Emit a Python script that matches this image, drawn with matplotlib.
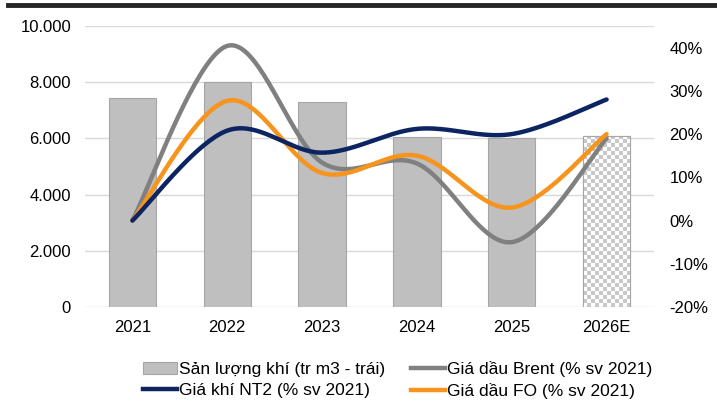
import matplotlib
matplotlib.use("Agg")
import matplotlib.pyplot as plt
import matplotlib.lines as mlines
import matplotlib.patches as mpatches
from matplotlib.ticker import FuncFormatter
import numpy as np

plt.rcParams["font.family"] = ["Liberation Sans", "DejaVu Sans"]

# Data
years = ["2021", "2022", "2023", "2024", "2025", "2026E"]
gas_output = [7450, 8000, 7300, 6050, 6000, 6100]        # tr m3, left axis
brent_pct = [0, 40.4, 13.4, 13.2, -5.0, 19.0]             # % vs 2021
nt2_pct = [0, 20.8, 15.7, 21.2, 20.0, 28.0]
fo_pct = [0, 27.7, 11.0, 15.0, 3.0, 20.0]

C_BAR = "#bfbfbf"
C_BAR_EDGE = "#a6a6a6"
C_BRENT = "#808080"
C_NT2 = "#0c2461"
C_FO = "#f7941d"
C_GRID = "#d9d9d9"


def smooth(xs, ys, n=40):
    # Excel-like smoothed line: Catmull-Rom through points as cubic Beziers
    xs = np.asarray(xs, float)
    ys = np.asarray(ys, float)
    pts = np.column_stack([xs, ys])
    P = np.vstack([pts[0], pts, pts[-1]])
    out = []
    t = np.linspace(0, 1, n)[:, None]
    for i in range(1, len(P) - 2):
        p0, p1, p2, p3 = P[i - 1], P[i], P[i + 1], P[i + 2]
        c1 = p1 + (p2 - p0) / 6
        c2 = p2 - (p3 - p1) / 6
        seg = ((1 - t) ** 3) * p1 + 3 * ((1 - t) ** 2) * t * c1 \
            + 3 * (1 - t) * t ** 2 * c2 + t ** 3 * p2
        out.append(seg if i == 1 else seg[1:])
    out = np.vstack(out)
    return out[:, 0], out[:, 1]


fig = plt.figure(figsize=(7.17, 4.04), dpi=100)
ax = fig.add_axes([85 / 717, 1 - 307 / 404, (654 - 85) / 717, (307 - 26) / 404])
ax2 = ax.twinx()

x = np.arange(len(years))
bars = ax.bar(x, gas_output, width=0.5, color=C_BAR, edgecolor=C_BAR_EDGE,
              linewidth=0.8, zorder=2)

# checkerboard fill for the estimate bar
last = bars[-1]
last.set_facecolor("white")
checker = (np.indices((43, 12)).sum(axis=0) % 2).astype(float)
img = ax.imshow(checker, cmap=matplotlib.colors.ListedColormap(["#ffffff", "#c8c8c8"]),
                extent=[last.get_x(), last.get_x() + last.get_width(), 0, last.get_height()],
                aspect="auto", interpolation="nearest", zorder=2.5, origin="lower")
img.set_clip_path(last)
edge = mpatches.Rectangle((last.get_x(), 0), last.get_width(), last.get_height(),
                          fill=False, edgecolor=C_BAR_EDGE, linewidth=0.8, zorder=2.6)
ax.add_patch(edge)

ax.set_xlim(-0.5, len(years) - 0.5)
ax.set_ylim(0, 10000)
ax.set_yticks(np.arange(0, 10001, 2000))
ax.yaxis.set_major_formatter(FuncFormatter(lambda v, p: f"{int(v):,}".replace(",", ".")))
ax.set_xticks(x)
ax.set_xticklabels(years)
ax.grid(axis="y", color=C_GRID, linewidth=1)
ax.set_axisbelow(True)

for series, color in [(brent_pct, C_BRENT), (fo_pct, C_FO), (nt2_pct, C_NT2)]:
    sx, sy = smooth(x, series)
    ax2.plot(sx, sy, color=color, linewidth=3.2, solid_capstyle="round", zorder=3)

ax2.set_ylim(-20, 45)
ax2.set_yticks(np.arange(-20, 41, 10))
ax2.yaxis.set_major_formatter(FuncFormatter(lambda v, p: f"{int(v)}%"))

for a in (ax, ax2):
    for s in a.spines.values():
        s.set_visible(False)
    a.tick_params(length=0)
ax.tick_params(axis="y", labelsize=12, pad=10)
ax.tick_params(axis="x", labelsize=12, pad=9)
ax2.tick_params(axis="y", labelsize=12, pad=11)

# dark rule across the top
fig.add_artist(mlines.Line2D([8 / 717, 1], [1 - 5 / 404, 1 - 5 / 404],
                             color="#262626", linewidth=3.5))

handles = [
    mpatches.Patch(facecolor=C_BAR, edgecolor=C_BAR_EDGE, linewidth=0.8),
    mlines.Line2D([], [], color=C_NT2, linewidth=3.2),
    mlines.Line2D([], [], color=C_BRENT, linewidth=3.2),
    mlines.Line2D([], [], color=C_FO, linewidth=3.2),
]
labels = [
    "Sản lượng khí (tr m3 - trái)",
    "Giá khí NT2 (% sv 2021)",
    "Giá dầu Brent (% sv 2021)",
    "Giá dầu FO (% sv 2021)",
]
fig.legend(handles, labels, ncol=2, loc="center left",
           bbox_to_anchor=(143 / 717, 1 - 380 / 404), frameon=False,
           fontsize=12.5, handlelength=1.95, handletextpad=0.15,
           columnspacing=1.45, labelspacing=0.38, borderaxespad=0, borderpad=0)

fig.savefig("out.png", dpi=100)
